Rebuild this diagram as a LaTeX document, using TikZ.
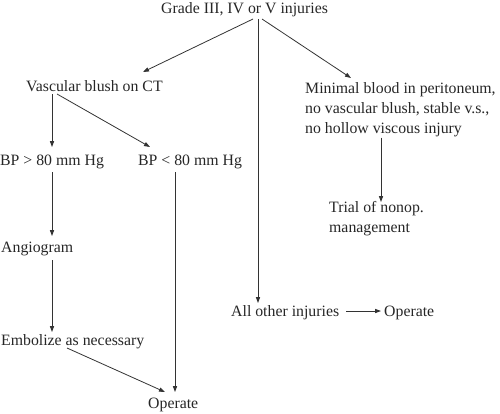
\documentclass[tikz,border=0pt]{standalone}
\usepackage{fontspec}
\setmainfont{Liberation Serif}
\usetikzlibrary{arrows.meta}
\begin{document}
\begin{tikzpicture}[x=1pt,y=-1pt,
  lbl/.style={inner sep=0pt,anchor=base west,font=\fontsize{15.8}{20}\selectfont,text=black!85},
  arr/.style={draw=black!80,line width=0.8pt,-{Triangle[length=6pt,width=4.2pt]}}]
\useasboundingbox (0,0) rectangle (500,413);
\node[lbl] (title) at (161,13) {Grade III, IV or V injuries};
\node[lbl] (vasc) at (26,91) {Vascular blush on CT};
\node[lbl,align=left] (minimal) at (305,133) {Minimal blood in peritoneum,\\no vascular blush, stable v.s.,\\no hollow viscous injury};
\node[lbl] (bphi) at (0,165) {BP > 80 mm Hg};
\node[lbl] (bplo) at (138,165) {BP < 80 mm Hg};
\node[lbl,align=left] (trial) at (329,232) {Trial of nonop.\\management};
\node[lbl] (angio) at (1,252) {Angiogram};
\node[lbl] (embol) at (1,345) {Embolize as necessary};
\node[lbl] (op1) at (148,408) {Operate};
\node[lbl] (other) at (231,316) {All other injuries};
\node[lbl] (op2) at (384,316) {Operate};
% connectors
\draw[arr] ([shift={(92,6)}]title.base west) -- ([shift={(117,-19)}]vasc.base west);
\draw[arr] ([shift={(101,6)}]title.base west) -- ([shift={(46,-55)}]minimal.base west);
\draw[arr] ([shift={(97,6)}]title.base west) -- ([shift={(27,-13)}]other.base west);
\draw[arr] ([shift={(26,3)}]vasc.base west) -- ([shift={(52,-18)}]bphi.base west);
\draw[arr] ([shift={(31,3)}]vasc.base west) -- ([shift={(12,-18)}]bplo.base west);
\draw[arr] ([shift={(52,7)}]bphi.base west) -- ([shift={(51,-16)}]angio.base west);
\draw[arr] ([shift={(51,8)}]angio.base west) -- ([shift={(51,-13)}]embol.base west);
\draw[arr] ([shift={(66,3)}]embol.base west) -- ([shift={(17,-16)}]op1.base west);
\draw[arr] ([shift={(37,7)}]bplo.base west) -- ([shift={(27,-16)}]op1.base west);
\draw[arr] ([shift={(76,1)}]minimal.south west) -- ([shift={(52,-30)}]trial.base west);
\draw[arr] ([shift={(115,-5)}]other.base west) -- ([shift={(-3,-5)}]op2.base west);
\end{tikzpicture}
\end{document}
